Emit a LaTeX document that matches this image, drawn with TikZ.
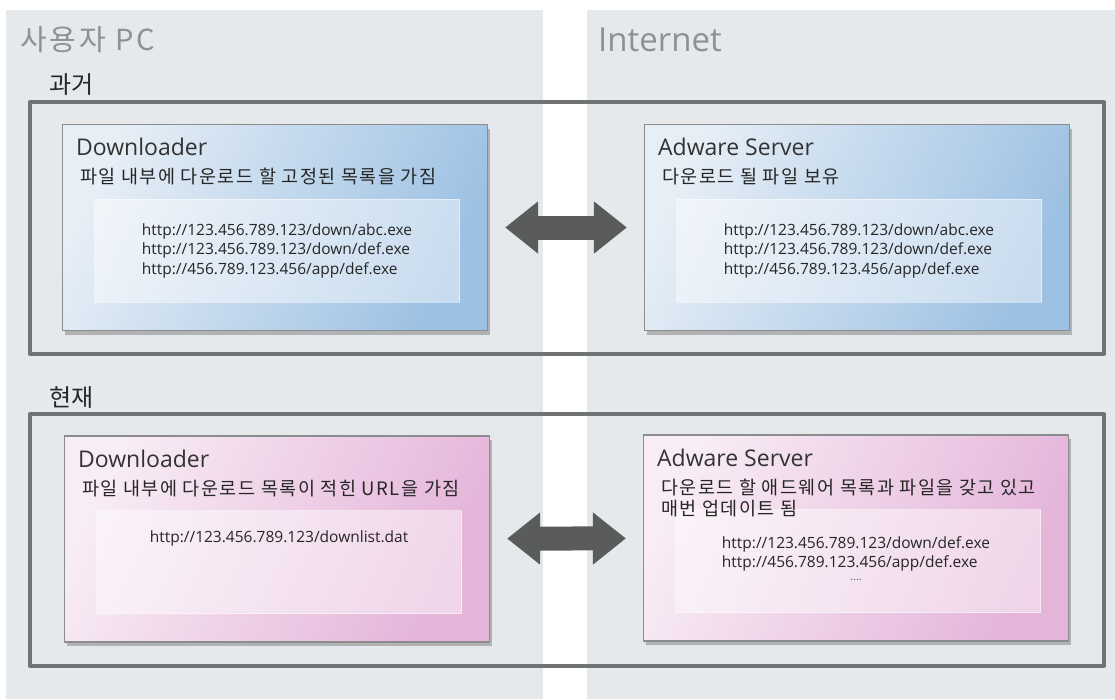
\documentclass[tikz,border=0pt]{standalone}
\usepackage{fontspec}
\setmainfont{Open Sans}
\newfontfamily\kr{Noto Sans CJK KR}
\newfontfamily\krnote[LetterSpace=8]{Noto Sans CJK KR}
\newfontfamily\krhead[LetterSpace=10]{Noto Sans CJK KR}
\usetikzlibrary{arrows.meta,shadows}
\definecolor{panelgray}{HTML}{E6E9EC}
\definecolor{framegray}{HTML}{6F7373}
\definecolor{headgray}{HTML}{8E9092}
\definecolor{oldlight}{HTML}{E6EEF6}
\definecolor{olddark}{HTML}{9DC1E3}
\definecolor{newlight}{HTML}{F8ECF5}
\definecolor{newdark}{HTML}{E4B4D9}
\definecolor{cardedge}{HTML}{8A8C8E}
\definecolor{swapgray}{HTML}{5A5C5C}
\tikzset{
  panel/.style={fill=panelgray},
  frame/.style={draw=framegray, line width=4pt},
  head/.style={text=headgray, anchor=west, inner sep=0pt},
  era/.style={font=\kr\fontsize{24}{28}\selectfont, text=black!85, anchor=west, inner sep=0pt},
  card/.style={draw=cardedge, line width=1.2pt, minimum width=425pt, minimum height=206pt, inner sep=0pt,
    drop shadow={shadow xshift=2pt, shadow yshift=-4pt, opacity=0.35, fill=black!70}},
  oldcard/.style={card, left color=oldlight, right color=olddark, shading angle=65},
  newcard/.style={card, left color=newlight, right color=newdark, shading angle=65},
  listbox/.style={fill=white, fill opacity=0.45, draw=white, draw opacity=0.5, minimum width=365pt, minimum height=103pt, inner sep=0pt},
  cardtitle/.style={font=\fontsize{23}{26}\selectfont, text=black!80, anchor=base west, inner sep=0pt},
  cardnote/.style={font=\krnote\fontsize{18.5}{21}\selectfont, text=black!85, anchor=base west, inner sep=0pt, align=left},
  urls/.style={font=\fontsize{15.5}{19.5}\selectfont, text=black!85, align=left, inner sep=0pt},
  swap/.style={{Triangle[length=33pt,width=50pt]}-{Triangle[length=33pt,width=50pt]}, line width=24pt, draw=swapgray, shorten <=17pt, shorten >=17pt}
}
\begin{document}
\begin{tikzpicture}[x=1pt, y=-1pt, line join=round]
%%%%%%%%%%%%%%%%%%%%%%%%%%%%%%%%%
\useasboundingbox (0,0) rectangle (1115,699);
\fill[panel] (6,10) rectangle (543,699);
\fill[panel] (587,10) rectangle (1115,699);
\node[head, font=\krhead\fontsize{29}{32}\selectfont] (pchead) at (20,40) {사용자 PC};
\node[head, font=\fontsize{33}{36}\selectfont] (nethead) at (598,40) {Internet};
%%%%%%%%%%%%%%%%%%%%%%%%%%%%%%%%%
\node[era] (oldera) at (49,85) {과거};
\draw[frame] (30,102) rectangle (1104,354);
\node[era] (newera) at (49,398) {현재};
\draw[frame] (30,414) rectangle (1104,666);
%%%%%%%%%%%%%%%%%%%%%%%%%%%%%%%%%
% 과거
\node[oldcard] (oldpc) at (275,227.5) {};
\node[oldcard] (oldsrv) at (857,227.5) {};
\node[listbox] (oldpclist) at ([xshift=2pt, yshift=-23pt]oldpc.center) {};
\node[listbox] (oldsrvlist) at ([xshift=2pt, yshift=-23pt]oldsrv.center) {};
\node[cardtitle] (oldpctitle) at ([xshift=14pt, yshift=-32pt]oldpc.north west) {Downloader};
\node[cardnote] (oldpcnote) at ([xshift=18pt, yshift=-60pt]oldpc.north west) {파일 내부에 다운로드 할 고정된 목록을 가짐};
\node[cardtitle] (oldsrvtitle) at ([xshift=14pt, yshift=-32pt]oldsrv.north west) {Adware Server};
\node[cardnote] (oldsrvnote) at ([xshift=18pt, yshift=-60pt]oldsrv.north west) {다운로드 될 파일 보유};
\node[urls] (oldpcurls) at (oldpclist.center) {http://123.456.789.123/down/abc.exe\\http://123.456.789.123/down/def.exe\\http://456.789.123.456/app/def.exe};
\node[urls] (oldsrvurls) at (oldsrvlist.center) {http://123.456.789.123/down/abc.exe\\http://123.456.789.123/down/def.exe\\http://456.789.123.456/app/def.exe};
\draw[swap] (oldpc) -- (oldsrv);
%%%%%%%%%%%%%%%%%%%%%%%%%%%%%%%%%
% 현재
\node[newcard] (newpc) at (277,539) {};
\node[newcard] (newsrv) at (856,538) {};
\node[listbox] (newpclist) at ([xshift=2pt, yshift=-23pt]newpc.center) {};
\node[listbox] (newsrvlist) at ([xshift=2pt, yshift=-23pt]newsrv.center) {};
\node[cardtitle] (newpctitle) at ([xshift=14pt, yshift=-32pt]newpc.north west) {Downloader};
\node[cardnote] (newpcnote) at ([xshift=18pt, yshift=-60pt]newpc.north west) {파일 내부에 다운로드 목록이 적힌 URL을 가짐};
\node[cardtitle] (newsrvtitle) at ([xshift=14pt, yshift=-32pt]newsrv.north west) {Adware Server};
\node[cardnote, anchor=north west] (newsrvnote) at ([xshift=18pt, yshift=-44pt]newsrv.north west) {다운로드 할 애드웨어 목록과 파일을 갖고 있고\\매번 업데이트 됨};
\node[urls, anchor=center] (newpcurls) at ([yshift=-28pt]newpclist.north) {http://123.456.789.123/downlist.dat};
\node[urls, anchor=north] (newsrvurls) at ([xshift=-2pt, yshift=-27pt]newsrvlist.north) {http://123.456.789.123/down/def.exe\\http://456.789.123.456/app/def.exe};
\node[urls, anchor=north, text=black!60, font=\fontsize{11}{12}\selectfont] (newsrvmore) at ([yshift=-7pt]newsrvurls.south) {....};
\draw[swap] (newpc) -- (newsrv);
%%%%%%%%%%%%%%%%%%%%%%%%%%%%%%%%%
\end{tikzpicture}
\end{document}
